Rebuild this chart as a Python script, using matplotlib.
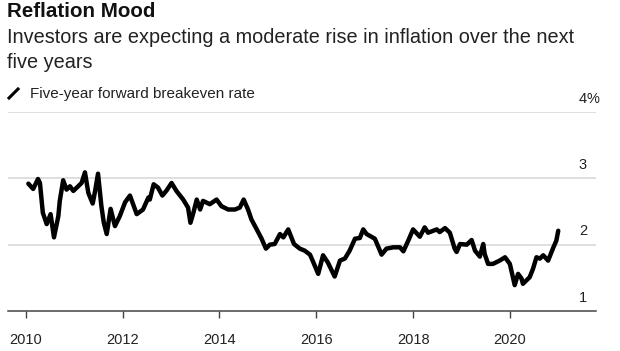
import matplotlib
matplotlib.use("Agg")
import matplotlib.pyplot as plt
from matplotlib.lines import Line2D

plt.rcParams["font.family"] = ["Liberation Sans", "DejaVu Sans"]

# ---------------------------------------------------------------------------
# Data: five-year forward breakeven rate (%)
# ---------------------------------------------------------------------------
years = [
    2010.05, 2010.15, 2010.25, 2010.29, 2010.35, 2010.43, 2010.51, 2010.58,
    2010.67, 2010.70, 2010.77, 2010.84, 2010.91, 2010.98, 2011.08, 2011.15,
    2011.22, 2011.29, 2011.38, 2011.43, 2011.49, 2011.56, 2011.61, 2011.67,
    2011.75, 2011.84, 2011.94, 2012.05, 2012.15, 2012.29, 2012.42, 2012.53,
    2012.56, 2012.64, 2012.73, 2012.82, 2012.91, 2013.01, 2013.11, 2013.25,
    2013.35, 2013.40, 2013.46, 2013.53, 2013.60, 2013.66, 2013.80, 2013.94,
    2014.04, 2014.18, 2014.32, 2014.42, 2014.50, 2014.59, 2014.66, 2014.77,
    2014.87, 2014.96, 2015.04, 2015.14, 2015.25, 2015.32, 2015.42, 2015.54,
    2015.66, 2015.76, 2015.87, 2015.93, 2016.04, 2016.14, 2016.24, 2016.38,
    2016.49, 2016.59, 2016.69, 2016.80, 2016.90, 2016.97, 2017.04, 2017.21,
    2017.35, 2017.45, 2017.59, 2017.73, 2017.80, 2017.90, 2018.00, 2018.14,
    2018.24, 2018.31, 2018.49, 2018.55, 2018.66, 2018.76, 2018.86, 2018.90,
    2018.97, 2019.11, 2019.21, 2019.28, 2019.38, 2019.45, 2019.48, 2019.55,
    2019.65, 2019.79, 2019.90, 2020.00, 2020.10, 2020.17, 2020.24, 2020.27,
    2020.41, 2020.48, 2020.55, 2020.62, 2020.69, 2020.79, 2020.90, 2020.96,
    2021.00,
]
rate = [
    2.92, 2.84, 2.99, 2.93, 2.48, 2.31, 2.46, 2.11,
    2.43, 2.66, 2.97, 2.83, 2.88, 2.81, 2.88, 2.93,
    3.09, 2.78, 2.62, 2.81, 3.07, 2.58, 2.33, 2.16,
    2.54, 2.28, 2.43, 2.64, 2.74, 2.46, 2.53, 2.71,
    2.68, 2.91, 2.86, 2.74, 2.82, 2.93, 2.81, 2.68,
    2.56, 2.33, 2.48, 2.68, 2.53, 2.66, 2.61, 2.68,
    2.58, 2.53, 2.53, 2.56, 2.68, 2.53, 2.38, 2.23,
    2.09, 1.94, 2.00, 2.01, 2.16, 2.11, 2.23, 2.01,
    1.94, 1.91, 1.85, 1.75, 1.56, 1.84, 1.73, 1.52,
    1.76, 1.79, 1.91, 2.09, 2.10, 2.23, 2.16, 2.09,
    1.85, 1.94, 1.96, 1.96, 1.90, 2.06, 2.23, 2.12,
    2.26, 2.18, 2.23, 2.19, 2.25, 2.18, 1.94, 1.89,
    2.01, 2.00, 2.07, 1.91, 1.82, 2.01, 1.86, 1.71,
    1.71, 1.76, 1.81, 1.71, 1.39, 1.56, 1.49, 1.41,
    1.51, 1.64, 1.81, 1.79, 1.84, 1.76, 1.96, 2.06,
    2.21,
]

x_ticks = [2010, 2012, 2014, 2016, 2018, 2020]
y_levels = [1, 2, 3, 4]
y_labels = ["1", "2", "3", "4"]

# ---------------------------------------------------------------------------
# Figure
# ---------------------------------------------------------------------------
W, H = 620, 351
fig = plt.figure(figsize=(W / 100, H / 100), dpi=100)
fig.patch.set_facecolor("white")

ax = fig.add_axes([8 / W, 1 - 311 / H, 588 / W, 199 / H])
ax.set_xlim(2009.63, 2021.78)
ax.set_ylim(1, 4)

for lv in y_levels[1:]:
    ax.axhline(lv, color="#d6d6d6", lw=1.1, zorder=1)

ax.plot(years, rate, color="black", lw=3.2, solid_joinstyle="round",
        solid_capstyle="round", zorder=3)

for s in ("left", "right", "top"):
    ax.spines[s].set_visible(False)
ax.spines["bottom"].set_color("#444444")
ax.spines["bottom"].set_linewidth(1.1)

ax.set_yticks([])
ax.set_xticks(x_ticks)
ax.set_xticklabels([str(t) for t in x_ticks])
ax.tick_params(axis="x", direction="out", length=5, width=1, color="#444444",
               labelsize=10.5, labelcolor="#222222", pad=11)

# y labels sit above the gridlines on the right
for lv, lab in zip(y_levels, y_labels):
    ax.annotate(lab, xy=(0.9845, lv), xycoords=("axes fraction", "data"),
                xytext=(0, 9.5), textcoords="offset points",
                ha="right", va="center", fontsize=10.5, color="#222222")
ax.annotate("%", xy=(0.9845, 4), xycoords=("axes fraction", "data"),
            xytext=(0, 9.5), textcoords="offset points",
            ha="left", va="center", fontsize=10.5, color="#222222")

# Titles
fig.text(7 / W, 1 - 2 / H, "Reflation Mood", ha="left", va="top",
         fontsize=14.8, fontweight="bold", color="#111111")
fig.text(7 / W, 1 - 28 / H,
         "Investors are expecting a moderate rise in inflation over the next\nfive years",
         ha="left", va="top", fontsize=14.3, color="#222222", linespacing=1.38)

# Legend
fig.add_artist(Line2D([9 / W, 18 / W], [1 - 98 / H, 1 - 89 / H],
                      color="black", lw=2.2, transform=fig.transFigure))
fig.text(30 / W, 1 - 94 / H, "Five-year forward breakeven rate", ha="left",
         va="center", fontsize=11, color="#222222")

fig.savefig("out.png", dpi=100, facecolor="white")
